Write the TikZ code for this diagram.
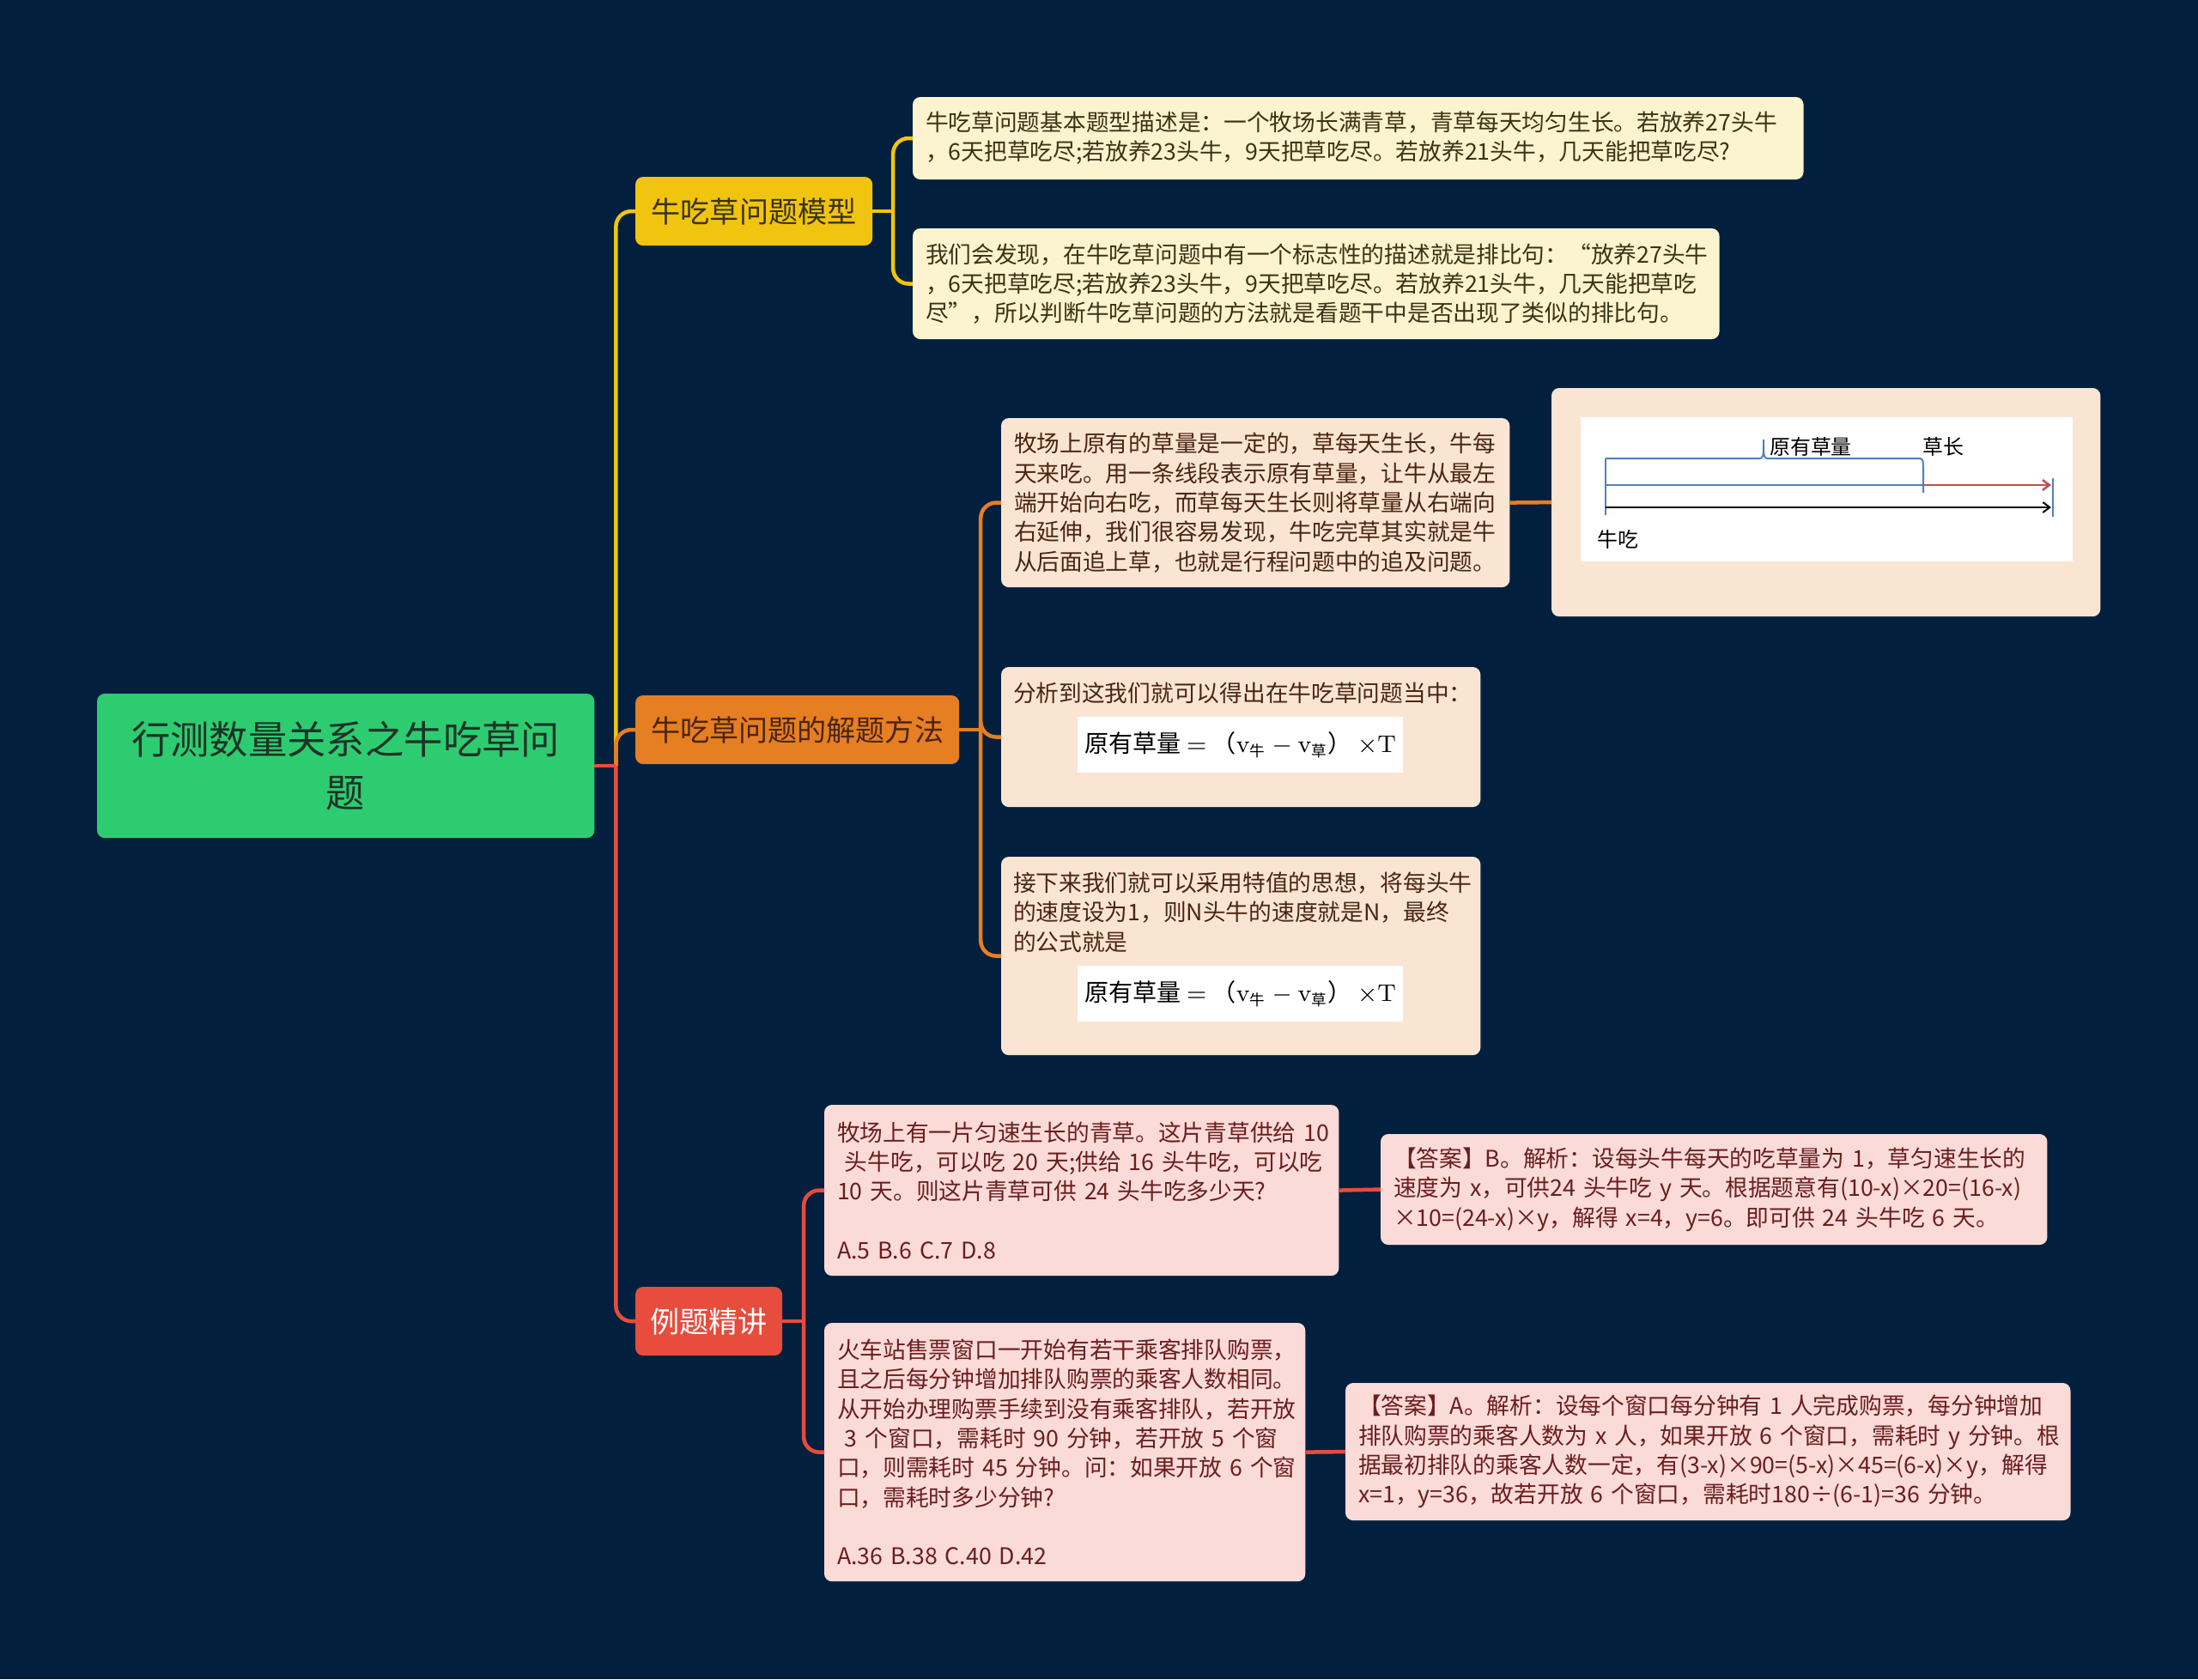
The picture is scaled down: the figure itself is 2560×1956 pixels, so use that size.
\documentclass[tikz,border=0pt]{standalone}
\usepackage[no-math]{fontspec}
\setmainfont{Noto Sans CJK SC}
\usepackage{xcolor}
\usetikzlibrary{arrows.meta}

\definecolor{bgnavy}{HTML}{02203E}
\definecolor{rootgreen}{HTML}{2ECC71}
\definecolor{roottext}{HTML}{1E3326}
\definecolor{branchyellow}{HTML}{F1C40F}
\definecolor{branchorange}{HTML}{E67E22}
\definecolor{branchred}{HTML}{E74C3C}
\definecolor{leafcream}{HTML}{FCF3CF}
\definecolor{leafpeach}{HTML}{FAE5D3}
\definecolor{leafpink}{HTML}{FADBD8}
\definecolor{textolive}{HTML}{3B3414}
\definecolor{textbrown}{HTML}{4A2612}
\definecolor{textwine}{HTML}{6B1E1E}
\definecolor{diagblue}{HTML}{4F81BD}
\definecolor{diagred}{HTML}{C0504D}

\newcommand{\fsub}[1]{\mbox{\fontsize{5pt}{5pt}\selectfont #1}}

\tikzset{
  box/.style={rectangle,rounded corners=0.09cm,inner xsep=0.15cm,inner ysep=0pt,outer sep=0pt,anchor=north west,align=left},
  leaf/.style={box,font=\fontsize{7.6pt}{9.76pt}\selectfont},
  branch/.style={box,align=center,minimum height=0.8cm,font=\fontsize{9.7pt}{12pt}\selectfont},
  formula/.style={rectangle,fill=white,anchor=north west,inner sep=0pt,outer sep=0pt,minimum width=3.79cm,minimum height=0.65cm,font=\fontsize{8pt}{10pt}\selectfont},
  link/.style={line width=0.045cm,rounded corners=0.18cm},
  piclabel/.style={inner sep=0pt,font=\fontsize{6.8pt}{8pt}\selectfont},
}

\begin{document}
\begin{tikzpicture}[x=0.01cm,y=-0.01cm]
\useasboundingbox (0,0) rectangle (2560,1956);
\fill[bgnavy] (0,0) rectangle (2560,1956);

% root and main branches
\node[box,fill=rootgreen,text=roottext,minimum width=5.79cm,minimum height=1.68cm,text width=5.49cm,align=center,font=\fontsize{12.9pt}{17.6pt}\selectfont] (root) at (113,808) {行测数量关系之牛吃草问\\题};
\node[branch,fill=branchyellow,text=textolive,minimum width=2.76cm,text width=2.46cm] (b1) at (740,206) {牛吃草问题模型};
\node[branch,fill=branchorange,text=textbrown,minimum width=3.77cm,text width=3.47cm] (b2) at (740,810) {牛吃草问题的解题方法};
\node[branch,fill=branchred,text=white,minimum width=1.71cm,text width=1.41cm] (b3) at (740,1499) {例题精讲};

% model
\node[leaf,fill=leafcream,text=textolive,minimum width=10.37cm,minimum height=0.96cm,text width=10.07cm] (l1a) at (1063,113) {牛吃草问题基本题型描述是：一个牧场长满青草，青草每天均匀生长。若放养27头牛\\，6天把草吃尽;若放养23头牛，9天把草吃尽。若放养21头牛，几天能把草吃尽?};
\node[leaf,fill=leafcream,text=textolive,minimum width=9.39cm,minimum height=1.29cm,text width=9.09cm] (l1b) at (1063,266) {我们会发现，在牛吃草问题中有一个标志性的描述就是排比句：“放养27头牛\\，6天把草吃尽;若放养23头牛，9天把草吃尽。若放养21头牛，几天能把草吃\\尽”，所以判断牛吃草问题的方法就是看题干中是否出现了类似的排比句。};

% method
\node[leaf,fill=leafpeach,text=textbrown,minimum width=5.92cm,minimum height=1.97cm,text width=5.62cm] (l2a) at (1166,487) {牧场上原有的草量是一定的，草每天生长，牛每\\天来吃。用一条线段表示原有草量，让牛从最左\\端开始向右吃，而草每天生长则将草量从右端向\\右延伸，我们很容易发现，牛吃完草其实就是牛\\从后面追上草，也就是行程问题中的追及问题。};
\node[box,fill=leafpeach,minimum width=6.39cm,minimum height=2.66cm] (l2img) at (1807,452) {};
\node[rectangle,fill=white,anchor=north west,inner sep=0pt,minimum width=5.73cm,minimum height=1.68cm] (l2pic) at (1840,485) {};
\draw[diagblue,line width=0.02cm] (1870,534) -- (1870,600);
\draw[diagblue,line width=0.02cm] (1870,534) -- (2047,534) .. controls (2054,534) .. (2054,512) .. controls (2054,534) .. (2061,534) -- (2233,534) .. controls (2240,534) .. (2240,550) -- (2240,574);
\draw[diagblue,line width=0.025cm] (1870,565) -- (2240,565);
\draw[diagred,line width=0.025cm,-{Straight Barb[length=0.08cm,width=0.12cm]}] (2240,565) -- (2389,565);
\draw[black,line width=0.02cm,-{Straight Barb[length=0.08cm,width=0.12cm]}] (1870,591) -- (2389,591);
\draw[diagblue,line width=0.02cm] (2391,557) -- (2391,602);
\node[piclabel] (lblgrass) at (2109,520) {原有草量};
\node[piclabel] (lblgrow) at (2263,520) {草长};
\node[piclabel] (lblcow) at (1884,628) {牛吃};

\node[box,fill=leafpeach,minimum width=5.58cm,minimum height=1.63cm] (l2b) at (1166,777) {};
\node[leaf,text=textbrown,inner xsep=0pt] (l2btext) at (1180,795) {分析到这我们就可以得出在牛吃草问题当中：};
\node[formula] (f1) at (1255,835) {原有草量~$=$~（$\mathrm{v}_{\fsub{牛}}-\mathrm{v}_{\fsub{草}}$）~$\times\mathrm{T}$};
\node[box,fill=leafpeach,minimum width=5.58cm,minimum height=2.31cm] (l2c) at (1166,998) {};
\node[leaf,text=textbrown,inner xsep=0pt] (l2ctext) at (1180,1016) {接下来我们就可以采用特值的思想，将每头牛\\的速度设为1，则N头牛的速度就是N，最终\\的公式就是};
\node[formula] (f2) at (1255,1125) {原有草量~$=$~（$\mathrm{v}_{\fsub{牛}}-\mathrm{v}_{\fsub{草}}$）~$\times\mathrm{T}$};

% examples
\node[leaf,fill=leafpink,text=textwine,minimum width=5.99cm,minimum height=1.99cm,text width=5.69cm] (l3a) at (960,1287) {牧场上有一片匀速生长的青草。这片青草供给~10\\\ 头牛吃，可以吃~20~天;供给~16~头牛吃，可以吃\\10~天。则这片青草可供~24~头牛吃多少天?\\[9.76pt]A.5~B.6~C.7~D.8};
\node[leaf,fill=leafpink,text=textwine,minimum width=7.76cm,minimum height=1.29cm,text width=7.46cm] (l3aans) at (1608,1321) {【答案】B。解析：设每头牛每天的吃草量为~1，草匀速生长的\\速度为~x，可供24~头牛吃~y~天。根据题意有(10-x)×20=(16-x)\\×10=(24-x)×y，解得~x=4，y=6。即可供~24~头牛吃~6~天。};
\node[leaf,fill=leafpink,text=textwine,minimum width=5.60cm,minimum height=3.01cm,text width=5.30cm] (l3b) at (960,1541) {火车站售票窗口一开始有若干乘客排队购票，\\且之后每分钟增加排队购票的乘客人数相同。\\从开始办理购票手续到没有乘客排队，若开放\\\ 3~个窗口，需耗时~90~分钟，若开放~5~个窗\\口，则需耗时~45~分钟。问：如果开放~6~个窗\\口，需耗时多少分钟?\\[9.76pt]A.36~B.38~C.40~D.42};
\node[leaf,fill=leafpink,text=textwine,minimum width=8.44cm,minimum height=1.60cm,text width=8.14cm] (l3bans) at (1567,1611) {【答案】A。解析：设每个窗口每分钟有~1~人完成购票，每分钟增加\\排队购票的乘客人数为~x~人，如果开放~6~个窗口，需耗时~y~分钟。根\\据最初排队的乘客人数一定，有(3-x)×90=(5-x)×45=(6-x)×y，解得\\x=1，y=36，故若开放~6~个窗口，需耗时180÷(6-1)=36~分钟。};

% connectors
\draw[link,branchyellow] ([xshift=0.25cm]root.east) |- (b1.west);
\draw[link,branchorange] ([xshift=0.25cm]root.east) |- (b2.west);
\draw[link,branchred] ([xshift=0.25cm]root.east) |- (b3.west);
\draw[link,branchred] (root.east) -- ++(25,0);

\draw[link,branchyellow] (b1.east) -- ++(24,0);
\foreach \leaf in {l1a,l1b}
  \draw[link,branchyellow] ([xshift=0.24cm]b1.east) |- (\leaf.west);

\draw[link,branchorange] (b2.east) -- ++(25,0);
\foreach \leaf in {l2a,l2b,l2c}
  \draw[link,branchorange] ([xshift=0.25cm]b2.east) |- (\leaf.west);
\draw[link,branchorange] (l2a.east) -- (l2img.west);

\draw[link,branchred] (b3.east) -- ++(25,0);
\foreach \leaf in {l3a,l3b}
  \draw[link,branchred] ([xshift=0.25cm]b3.east) |- (\leaf.west);
\draw[link,branchred] (l3a.east) -- (l3aans.west);
\draw[link,branchred] (l3b.east) -- (l3bans.west);
\end{tikzpicture}
\end{document}
